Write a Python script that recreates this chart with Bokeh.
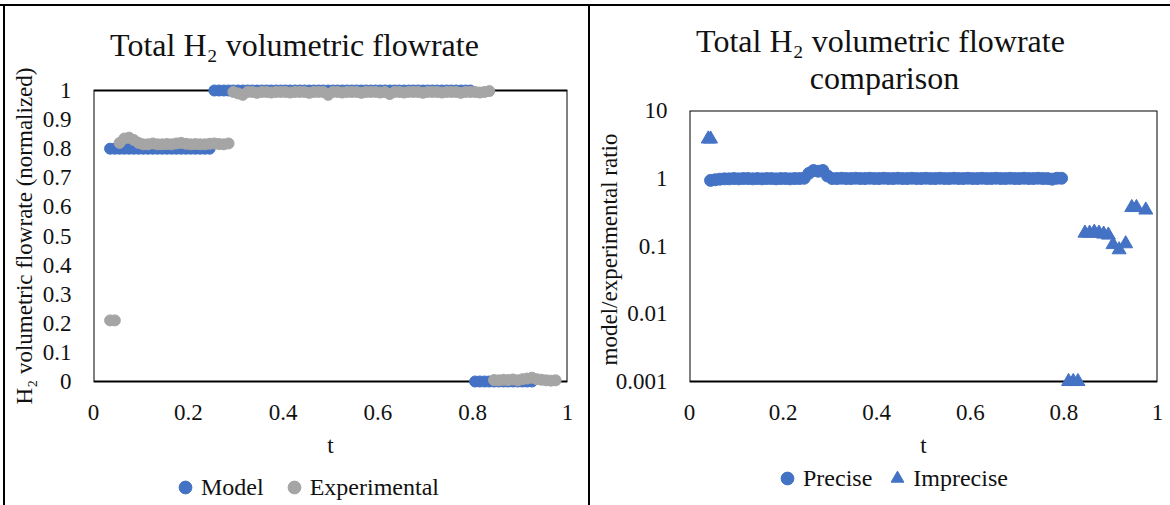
from bokeh.plotting import figure
from bokeh.layouts import row, column
from bokeh.models import (Range1d, FixedTicker, CustomJSTickFormatter, Legend, LegendItem,
                          Label, BoxAnnotation, Div)
from bokeh.embed import file_html
from bokeh.resources import INLINE

FONT = "Liberation Serif"
BLUE = "#4472C4"
GRAY = "#A5A5A5"
INK = "#111111"

# ---------------- data ----------------
x_ticks = [0, 0.2, 0.4, 0.6, 0.8, 1]
left_y_ticks = [0, 0.1, 0.2, 0.3, 0.4, 0.5, 0.6, 0.7, 0.8, 0.9, 1]
right_y_ticks = [0.001, 0.01, 0.1, 1, 10]

left_title = "Total H\u2082 volumetric  flowrate"
left_ylabel = "H\u2082 volumetric flowrate (normalized)"
right_title_1 = "Total H\u2082 volumetric  flowrate"
right_title_2 = "comparison"
right_ylabel = "model/experimental ratio"
x_label = "t"

model_t = [0.035, 0.045, 0.055, 0.065, 0.075, 0.085, 0.095, 0.105, 0.115, 0.125, 0.135,
           0.145, 0.155, 0.165, 0.175, 0.185, 0.195, 0.205, 0.215, 0.225, 0.235, 0.245,
           0.255, 0.265, 0.275, 0.285, 0.295, 0.305, 0.315, 0.325, 0.335, 0.345, 0.355,
           0.365, 0.375, 0.385, 0.395, 0.405, 0.415, 0.425, 0.435, 0.445, 0.455, 0.465,
           0.475, 0.485, 0.495, 0.505, 0.515, 0.525, 0.535, 0.545, 0.555, 0.565, 0.575,
           0.585, 0.595, 0.605, 0.615, 0.625, 0.635, 0.645, 0.655, 0.665, 0.675, 0.685,
           0.695, 0.705, 0.715, 0.725, 0.735, 0.745, 0.755, 0.765, 0.775, 0.785, 0.795,
           0.805, 0.815, 0.825, 0.835, 0.845, 0.855, 0.865, 0.875, 0.885, 0.895, 0.905,
           0.915, 0.925]
model_y = [0.80, 0.80, 0.80, 0.80, 0.80, 0.80, 0.80, 0.80, 0.80, 0.80, 0.80,
           0.80, 0.80, 0.80, 0.80, 0.80, 0.80, 0.80, 0.80, 0.80, 0.80, 0.80,
           1.00, 1.00, 1.00, 1.00, 1.00, 1.00, 1.00, 1.00, 1.00, 1.00, 1.00,
           1.00, 1.00, 1.00, 1.00, 1.00, 1.00, 1.00, 1.00, 1.00, 1.00, 1.00,
           1.00, 1.00, 1.00, 1.00, 1.00, 1.00, 1.00, 1.00, 1.00, 1.00, 1.00,
           1.00, 1.00, 1.00, 1.00, 1.00, 1.00, 1.00, 1.00, 1.00, 1.00, 1.00,
           1.00, 1.00, 1.00, 1.00, 1.00, 1.00, 1.00, 1.00, 1.00, 1.00, 1.00,
           0.00, 0.00, 0.00, 0.00, 0.00, 0.00, 0.00, 0.00, 0.00, 0.00, 0.00,
           0.00, 0.00]

exp_t = [0.035, 0.045,
         0.055, 0.065, 0.075, 0.085, 0.095, 0.105, 0.115, 0.125, 0.135, 0.145, 0.155, 0.165,
         0.175, 0.185, 0.195, 0.205, 0.215, 0.225, 0.235, 0.245, 0.255, 0.265, 0.275, 0.285,
         0.295, 0.305, 0.315, 0.325, 0.335, 0.345, 0.355, 0.365, 0.375, 0.385, 0.395,
         0.405, 0.415, 0.425, 0.435, 0.445, 0.455, 0.465, 0.475, 0.485, 0.495, 0.505,
         0.515, 0.525, 0.535, 0.545, 0.555, 0.565, 0.575, 0.585, 0.595, 0.605, 0.615,
         0.625, 0.635, 0.645, 0.655, 0.665, 0.675, 0.685, 0.695, 0.705, 0.715, 0.725,
         0.735, 0.745, 0.755, 0.765, 0.775, 0.785, 0.795, 0.805, 0.815, 0.825, 0.835,
         0.845, 0.855, 0.865, 0.875, 0.885, 0.895, 0.905, 0.915, 0.925, 0.935, 0.945,
         0.955, 0.965, 0.975]
exp_y = [0.21, 0.21,
         0.820, 0.835, 0.838, 0.830, 0.820, 0.815, 0.815, 0.818, 0.815, 0.815, 0.816, 0.815,
         0.818, 0.820, 0.817, 0.815, 0.816, 0.815, 0.815, 0.817, 0.818, 0.816, 0.815, 0.818,
         0.995, 0.990, 0.985, 0.995, 0.995, 0.992, 0.995, 0.995, 0.993, 0.995, 0.995,
         0.995, 0.993, 0.995, 0.995, 0.995, 0.992, 0.995, 0.995, 0.995, 0.985, 0.995,
         0.995, 0.993, 0.995, 0.995, 0.995, 0.992, 0.995, 0.995, 0.995, 0.993, 0.995,
         0.988, 0.995, 0.995, 0.993, 0.995, 0.995, 0.995, 0.992, 0.995, 0.995, 0.995,
         0.993, 0.995, 0.995, 0.995, 0.992, 0.995, 0.995, 0.995, 0.993, 0.995, 0.998,
         0.005, 0.004, 0.006, 0.005, 0.007, 0.004, 0.008, 0.010, 0.013, 0.008, 0.006,
         0.004, 0.003, 0.004]

precise_t = [0.045, 0.055, 0.065, 0.075, 0.085, 0.095, 0.105, 0.115, 0.125, 0.135,
             0.145, 0.155, 0.165, 0.175, 0.185, 0.195, 0.205, 0.215, 0.225, 0.235,
             0.245, 0.255, 0.265, 0.275, 0.285, 0.295,
             0.305, 0.315, 0.325, 0.335, 0.345, 0.355, 0.365, 0.375, 0.385, 0.395,
             0.405, 0.415, 0.425, 0.435, 0.445, 0.455, 0.465, 0.475, 0.485, 0.495,
             0.505, 0.515, 0.525, 0.535, 0.545, 0.555, 0.565, 0.575, 0.585, 0.595,
             0.605, 0.615, 0.625, 0.635, 0.645, 0.655, 0.665, 0.675, 0.685, 0.695,
             0.705, 0.715, 0.725, 0.735, 0.745, 0.755, 0.765, 0.775, 0.785, 0.795]
precise_r = [0.93, 0.95, 0.97, 0.98, 0.98, 0.99, 0.98, 0.99, 0.99, 0.98,
             0.99, 0.98, 0.99, 0.99, 0.98, 0.99, 0.99, 0.98, 0.99, 0.99,
             1.00, 1.18, 1.30, 1.27, 1.30, 1.08,
             0.99, 0.99, 1.00, 0.99, 0.99, 1.00, 0.99, 0.99, 1.00, 0.99,
             0.99, 1.00, 0.99, 0.99, 1.00, 0.99, 0.99, 1.00, 0.99, 0.99,
             1.00, 0.99, 0.99, 1.00, 0.99, 0.99, 1.00, 0.99, 0.99, 1.00,
             0.99, 0.99, 1.00, 0.99, 0.99, 1.00, 0.99, 0.99, 1.00, 0.99,
             0.99, 1.00, 0.99, 0.99, 1.00, 0.99, 0.99, 0.97, 1.00, 1.00]

imprecise_t = [0.040, 0.045, 0.810, 0.820, 0.830, 0.845, 0.855, 0.865, 0.875, 0.885,
               0.895, 0.905, 0.918, 0.932, 0.945, 0.955, 0.975]
imprecise_r = [3.8, 3.8, 0.001, 0.001, 0.001, 0.155, 0.155, 0.16, 0.155, 0.15,
               0.145, 0.105, 0.088, 0.108, 0.37, 0.37, 0.34]

# ---------------- helpers ----------------
fmt = "return String(tick);"


def blank_fig(w, h):
    f = figure(width=w, height=h, output_backend="svg", toolbar_location=None,
               x_range=Range1d(0, 1), y_range=Range1d(0, 1),
               x_axis_location=None, y_axis_location=None,
               min_border=0, min_border_left=0, min_border_right=0,
               min_border_top=0, min_border_bottom=0)
    f.xgrid.visible = False
    f.ygrid.visible = False
    f.outline_line_color = None
    return f


def style_axes(p):
    p.xgrid.visible = False
    p.ygrid.visible = False
    p.outline_line_color = None
    for ax in p.axis:
        ax.axis_line_color = None
        ax.major_tick_line_color = None
        ax.minor_tick_line_color = None
        ax.major_tick_out = 0
        ax.minor_tick_out = 0
        ax.major_tick_in = 0
        ax.minor_tick_in = 0
        ax.major_label_text_font = FONT
        ax.major_label_text_font_size = "23px"
        ax.major_label_text_color = INK
        ax.axis_label_text_font = FONT
        ax.axis_label_text_font_size = "23px"
        ax.axis_label_text_font_style = "normal"
        ax.axis_label_text_color = INK
        ax.formatter = CustomJSTickFormatter(code=fmt)
    p.xaxis.ticker = FixedTicker(ticks=x_ticks)
    p.xaxis.major_label_standoff = 16
    p.xaxis.axis_label = x_label
    p.xaxis.axis_label_standoff = 10


def make_legend(items, loc, spacing):
    return Legend(items=items, orientation="horizontal", location=loc,
                  border_line_color=None, background_fill_alpha=0, padding=0, margin=0,
                  spacing=spacing, glyph_width=32, glyph_height=32, label_standoff=-5,
                  inactive_fill_alpha=0,
                  label_text_font=FONT, label_text_font_size="24px", label_text_color=INK)


def title_label(x, y, text):
    return Label(x=x, y=y, x_units="screen", y_units="screen", text=text,
                 text_align="center", text_baseline="alphabetic", text_font=FONT,
                 text_font_size="32px", text_color=INK)


def bar(w, h, color):
    return Div(text="", width=w, height=h, margin=(0, 0, 0, 0),
               styles={"background-color": color})


# ---------------- left chart ----------------
t1 = blank_fig(583, 58)
t1.add_layout(title_label(205, 20, left_title))

p1 = figure(width=583, height=401, output_backend="svg", toolbar_location=None,
            x_range=Range1d(0, 1), y_range=Range1d(-7 / 291, 1 + 7 / 291),
            min_border_left=88, min_border_right=21, min_border_top=19, min_border_bottom=77)
style_axes(p1)
p1.yaxis.ticker = FixedTicker(ticks=left_y_ticks)
p1.yaxis.major_label_standoff = 22
p1.yaxis.axis_label = left_ylabel
p1.yaxis.axis_label_standoff = 3

p1.add_layout(BoxAnnotation(left=0, right=1, bottom=0, top=1, fill_color=None, fill_alpha=0,
                            line_color="black", line_alpha=1, line_width=2, level="underlay"))
p1.scatter(model_t, model_y, size=11, color=BLUE, marker="circle")
p1.scatter(exp_t, exp_y, size=11, color=GRAY, marker="circle")

l1 = blank_fig(583, 40)
k_model = l1.scatter(model_t, model_y, size=11, color=BLUE, marker="circle", visible=False)
k_exp = l1.scatter(exp_t, exp_y, size=11, color=GRAY, marker="circle", visible=False)
l1.add_layout(make_legend([LegendItem(label="Model", renderers=[k_model]),
                           LegendItem(label="Experimental", renderers=[k_exp])],
                          (76, 2), 14))

# ---------------- right chart ----------------
t2 = blank_fig(580, 89)
t2.add_layout(title_label(195, 55, right_title_1))
t2.add_layout(title_label(195, 18, right_title_2))

p2 = figure(width=580, height=370, output_backend="svg", toolbar_location=None,
            x_range=Range1d(0, 1), y_range=Range1d(10 ** (-3 - 7 / 67.75), 10),
            y_axis_type="log",
            min_border_left=99, min_border_right=13, min_border_top=15, min_border_bottom=77)
style_axes(p2)
p2.yaxis.ticker = FixedTicker(ticks=right_y_ticks)
p2.yaxis.major_label_standoff = 22
p2.yaxis.axis_label = right_ylabel
p2.yaxis.axis_label_standoff = -9

p2.add_layout(BoxAnnotation(left=0, right=1, bottom=0.001, top=10, fill_color=None, fill_alpha=0,
                            line_color="black", line_alpha=1, line_width=2, level="underlay"))
p2.scatter(precise_t, precise_r, size=12, color=BLUE, marker="circle")
p2.scatter(imprecise_t, imprecise_r, size=14, color=BLUE, marker="triangle")

l2 = blank_fig(580, 40)
k_prec = l2.scatter(precise_t, precise_r, size=12, color=BLUE, marker="circle", visible=False)
k_impr = l2.scatter(imprecise_t, imprecise_r, size=14, color=BLUE, marker="triangle",
                    visible=False)
l2.add_layout(make_legend([LegendItem(label="Precise", renderers=[k_prec]),
                           LegendItem(label="Imprecise", renderers=[k_impr])],
                          (82, 11), 9))

# panel frame lines (outer border and divider)
body = row(bar(3, 499, "white"), bar(2, 499, "black"),
           column(t1, p1, l1),
           bar(2, 499, "black"),
           column(t2, p2, l2))
layout = column(bar(1170, 4, "white"), bar(1170, 2, "black"), body)
open("out.html", "w").write(file_html(layout, INLINE))
